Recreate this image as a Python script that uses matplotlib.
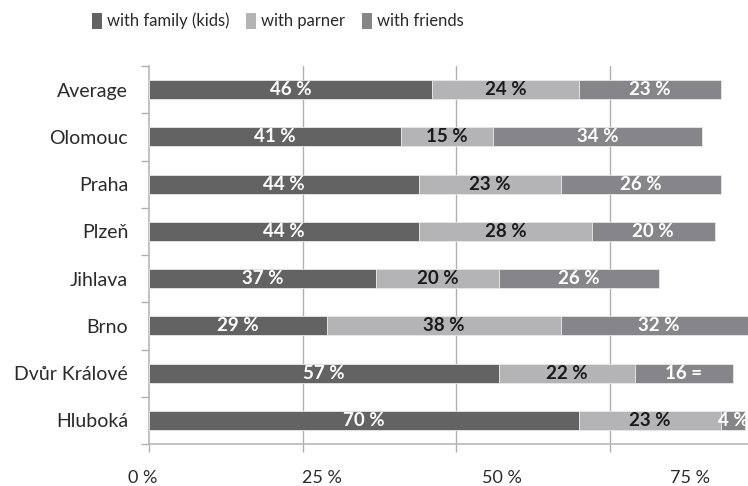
import matplotlib
matplotlib.use("Agg")
import matplotlib.pyplot as plt
import numpy as np
from matplotlib.patches import Patch

plt.rcParams['font.family'] = ['Lato', 'DejaVu Sans']

categories = ["Average", "Olomouc", "Praha", "Plzeň", "Jihlava", "Brno", "Dvůr Králové", "Hluboká"]
series_names = ["with family (kids)", "with parner", "with friends"]
family = [46, 41, 44, 44, 37, 29, 57, 70]
partner = [24, 15, 23, 28, 20, 38, 22, 23]
friends = [23, 34, 26, 20, 26, 32, 16, 4]
bar_labels_family = ["46 %", "41 %", "44 %", "44 %", "37 %", "29 %", "57 %", "70 %"]
bar_labels_partner = ["24 %", "15 %", "23 %", "28 %", "20 %", "38 %", "22 %", "23 %"]
bar_labels_friends = ["23 %", "34 %", "26 %", "20 %", "26 %", "32 %", "16 =", "4 %"]
xtick_values = [0, 25, 50, 75]
xtick_labels = ["0 %", "25 %", "50 %", "75 %"]
xtick_label_pos = [-1.1, 28.1, 57.4, 88.0]

colors = ["#636363", "#b4b4b6", "#86868a"]
text_colors = ["white", "#1a1a1a", "white"]

fig = plt.figure(figsize=(7.48, 4.86), dpi=100)
fig.patch.set_facecolor("white")
ax = fig.add_axes([149/748, 1-444/486, 1-149/748, (444-66)/486])

n = len(categories)
y = np.arange(n)
left = np.zeros(n)
all_vals = [family, partner, friends]
all_labels = [bar_labels_family, bar_labels_partner, bar_labels_friends]
for vals, labs, col, tcol, name in zip(all_vals, all_labels, colors, text_colors, series_names):
    vals = np.array(vals, dtype=float)
    ax.barh(y, vals, left=left, height=0.4, color=col, edgecolor="#e8e8e8",
            linewidth=0.6, zorder=3, label=name)
    for yi, l, v, t in zip(y, left, vals, labs):
        ax.text(l + v/2, yi, t, ha="center", va="center", color=tcol,
                fontsize=13.5, fontweight="bold", zorder=4, clip_on=True)
    left = left + vals

# grid
for gx in xtick_values[1:]:
    ax.axvline(gx, color="#b0b0b0", linewidth=1.0, zorder=1)

# x ticks (marks) and offset labels
ax.set_xticks(xtick_values)
ax.set_xticklabels([])
ax.tick_params(axis="x", which="major", direction="out", length=6, width=1.0, color="#b0b0b0")
for xp, t in zip(xtick_label_pos, xtick_labels):
    ax.text(xp, -0.09, t, transform=ax.get_xaxis_transform(), ha="center", va="center",
            fontsize=13, color="#2a2a2a", clip_on=False)

# y ticks
ax.set_yticks(np.arange(-0.5, n, 1.0))
ax.set_yticklabels([])
ax.tick_params(axis="y", which="major", direction="out", length=6, width=1.0, color="#b0b0b0")
ax.set_yticks(y, minor=True)
ax.set_yticklabels(categories, minor=True)
ax.tick_params(axis="y", which="minor", length=0, pad=15, labelsize=14, labelcolor="#2a2a2a")

ax.set_xlim(0, 97.45)
ax.set_ylim(n - 0.5, -0.5)

for s in ["top", "right"]:
    ax.spines[s].set_visible(False)
for s in ["left", "bottom"]:
    ax.spines[s].set_color("#b8b8b8")
    ax.spines[s].set_linewidth(1.2)

handles = [Patch(facecolor=c, edgecolor="none") for c in colors]
fig.legend(handles, series_names, loc="center", bbox_to_anchor=(278/748, 1-21/486),
           ncol=3, frameon=False, fontsize=12, handlelength=0.6, handleheight=1.1,
           handletextpad=0.3, columnspacing=1.0, labelcolor="#2a2a2a")

fig.savefig("out.png", dpi=100)
